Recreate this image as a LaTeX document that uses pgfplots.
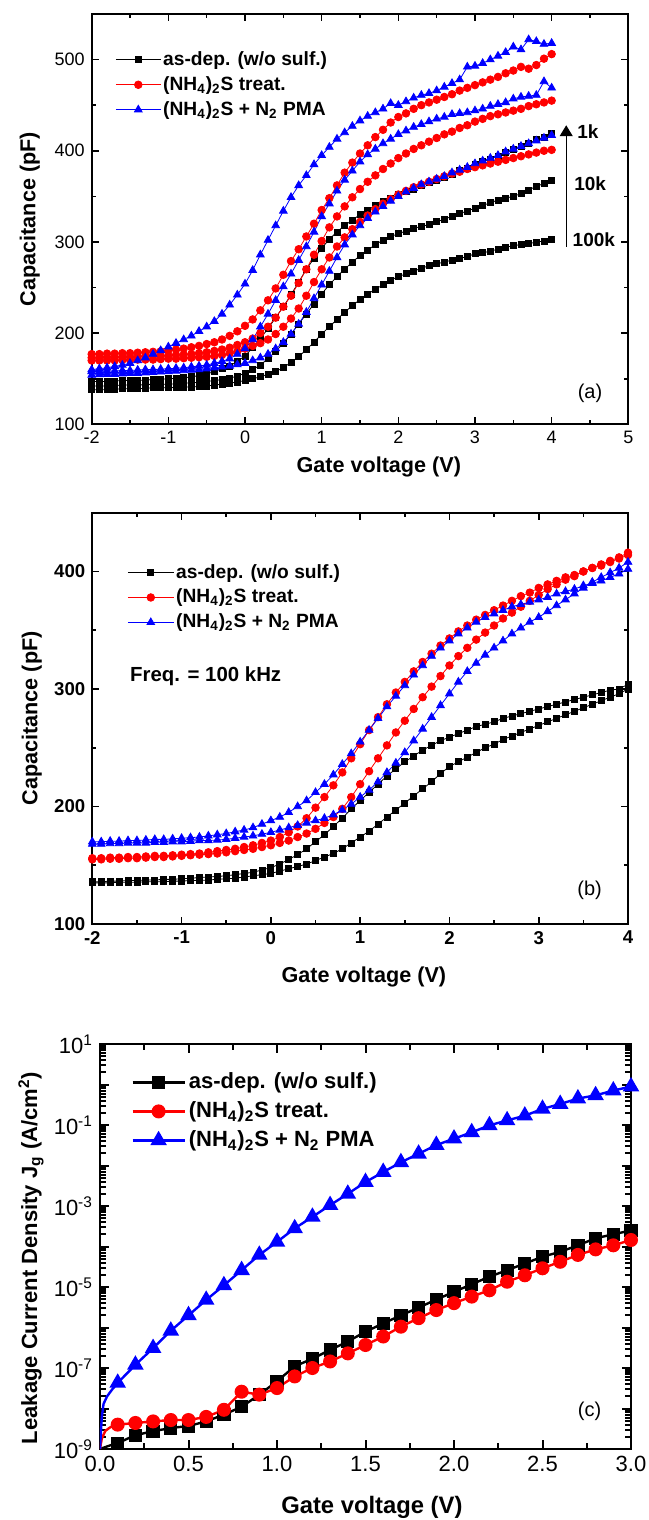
\documentclass[border=0pt]{standalone}
\usepackage{fontspec}
\setmainfont{Liberation Sans}
\usepackage{pgfplots}
\usepackage{pgfplotstable}
\pgfplotsset{compat=1.18}
\usetikzlibrary{arrows.meta}

% panel (a): C-V at 1k/10k/100k, columns a1-a3 black, a4-a6 red, a7-a9 blue (100k,10k,1k)
\pgfplotstableread{
V a1 a2 a3 a4 a5 a6 a7 a8 a9
-2.0 138 142 147 170 173 177 154 158 160
-1.9 138 142 147 170 173 177 154.5 158 161
-1.8 138 142 147 170 173.5 177.5 155 158.5 162
-1.7 138.5 142.5 147.5 170 173.5 177.5 155 158.5 163.5
-1.6 139 143 148 170.5 174 178 155.5 159 165
-1.5 139 143 148 170.5 174 178 156 159 167
-1.4 139 143 148 171 174.5 178.5 156 159.5 170
-1.3 139.5 143.5 148.5 171 174.5 179 156.5 160 173
-1.2 140 144 149 171 175 179.5 157 160 177
-1.1 140 144 149.5 171.5 175 180 157.5 160.5 181
-1.0 140 144 150 172 175.5 181 158 161 185
-0.9 140.5 144.5 150.5 172 176 182 158.5 161.5 189
-0.8 141 145 151 172.5 176.5 183 159 162 193
-0.7 141 145.5 152 173 177 184.5 159.5 163 197
-0.6 141.5 146 153.5 173.5 178 186 160 164 202
-0.5 142 147 155 174 179 188 161 165 207
-0.4 143 148 158 175 180.5 190 162 167 213
-0.3 144 149 161 176 182 193 163 169 221
-0.2 145 150.5 164 178 184 197 164 172 231
-0.1 146.5 153 169 180 187 202 165.5 177 242
0.0 148 156 175 183 190 208 167 183 254
0.1 150 160 184 186 194 215 170 193 269
0.2 152 165 194 189 200 225 173 207 286
0.3 155 172 205 193 207 236 177 221 302
0.4 158 180 217 199 217 249 183 236 318
0.5 162 189 229 207 229 264 190 251 334
0.6 168 199 242 216 241 279 199 265 349
0.7 174 210 256 227 255 292 210 280 362
0.8 182 221 270 241 270 306 223 295 373
0.9 190 232 282 256 286 320 238 311 385
1.0 199 243 293 270 301 335 253 328 395
1.1 207 253 303 283 316 348 268 342 404
1.2 215 262 311 295 328 362 283 356 413
1.3 223 270 318 305 339 376 297 368 420
1.4 230 278 324 314 349 387 308 378 427
1.5 237 285 330 322 358 397 318 388 433
1.6 243 291 335 329 366 406 326 396 438
1.7 248 297 340 336 373 415 333 402 442
1.8 253 302 344 342 380 423 339 408 446
1.9 258 306 348 347 386 431 345 413 452
2.0 262 309 352 352 392 437 350 418 450
2.1 265 312 355 356 397 441 355 422 454
2.2 268 315 358 360 402 446 359 426 458
2.3 271 317 362 363 406 450 363 429 461
2.4 274 319 365 366 410 453 366 432 463
2.5 276 322 368 369 414 456 369 435 466
2.6 278 325 371 372 418 459 372 437 470
2.7 280 328 374 375 421 462 376 440 474
2.8 282 331 378 377 425 466 379 441 478
2.9 284 334 381 380 428 469 382 442 492
3.0 287 337 385 382 432 472 386 444 493
3.1 288 340 388 384 435 475 389 446 496
3.2 290 343 391 386 438 478 392 449 500
3.3 292 346 394 388 440 481 395 451 504
3.4 294 348 398 390 442 485 399 453 508
3.5 296 350 401 392 444 488 402 457 514
3.6 297 353 405 394 446 492 405 459 511
3.7 298 357 408 396 449 490 408 460 522
3.8 300 361 412 398 451 494 411 461 520
3.9 301 364 415 400 453 501 414 476 517
4.0 303 368 419 401 455 506 417 469 518
}\tablea

% panel (b): 100 kHz, two sweeps per sample
\pgfplotstableread{
V b1 b2 b3 b4 b5 b6
-2.0 136 135 156 155 170 168
-1.9 136 135 156 155 170 168
-1.8 136.5 135 156.5 155.5 170.5 168.5
-1.7 136.5 135.5 156.5 155.5 170.5 168.5
-1.6 137 135.5 157 156 171 169
-1.5 137 135.5 157 156 171 169
-1.4 137.5 136 157.5 156.5 171.5 169
-1.3 137.5 136 158 157 172 169.5
-1.2 138 136 158 157 172 169.5
-1.1 138 136.5 158.5 157.5 172.5 170
-1.0 138.5 136.5 159 158 173 170
-0.9 139 137 159.5 158.5 173.5 170.5
-0.8 139.5 137 160 159 174 171
-0.7 140 137.5 161 159.5 175 171
-0.6 140.5 138 162 160 176 171.5
-0.5 141 138.5 163 161 177 172
-0.4 142 139 164 162 178.5 173
-0.3 143 140 165.5 163 180 174
-0.2 144 141 167 164 182 175
-0.1 146 142 169 165.5 185 176.5
0.0 148 143 171 167 188 178
0.1 151 145 174 169 191 180
0.2 155 147 178 171 195 182
0.3 159 149 183 174 200 184
0.4 164 151 190 177 205 186
0.5 170 154 199 181 212 188
0.6 176 157 208 186 219 190
0.7 183 160 218 191 227 193
0.8 190 164 229 198 236 197
0.9 198 169 241 208 245 202
1.0 205 174 253 219 255 208
1.1 212 179 265 230 265 214
1.2 219 185 276 241 275 221
1.3 226 191 287 252 285 229
1.4 232 197 297 263 294 237
1.5 238 203 306 273 303 246
1.6 243 209 315 283 312 256
1.7 248 215 323 293 320 266
1.8 252 221 330 302 328 276
1.9 256 228 337 311 335 286
2.0 259 234 343 320 341 296
2.1 262 238 349 328 347 306
2.2 265 242 354 335 352 315
2.3 268 246 359 342 357 322
2.4 270 250 363 348 361 329
2.5 272 253 367 354 364 335
2.6 275 257 371 360 367 341
2.7 277 260 375 365 370 347
2.8 279 263 379 370 372 352
2.9 281 266 382 375 374 357
3.0 283 269 386 380 376 361
3.1 285 272 389 385 378 366
3.2 287 275 392 389 381 371
3.3 289 278 395 393 383 376
3.4 291 281 397 396 385 381
3.5 293 284 400 400 388 386
3.6 295 287 403 403 390 391
3.7 297 290 405 406 392 395
3.8 299 293 408 409 395 399
3.9 300 296 411 412 398 403
4.0 304 300 414 416 402 408
}\tableb

% panel (c): leakage current density
\pgfplotstableread{
V c1 c2 c3
0.1 1.4e-9 4.0e-9 4.3e-8
0.2 2.2e-9 4.4e-9 1.2e-7
0.3 2.75e-9 4.8e-9 3.1e-7
0.4 3.3e-9 5.2e-9 8.3e-7
0.5 3.7e-9 5.2e-9 2.0e-6
0.6 4.8e-9 6.2e-9 4.8e-6
0.7 7.1e-9 9.3e-9 1.1e-5
0.8 1.1e-8 2.6e-8 2.6e-5
0.9 2.2e-8 2.2e-8 6.2e-5
1.0 4.7e-8 3.2e-8 1.3e-4
1.1 1.1e-7 6.2e-8 2.8e-4
1.2 1.7e-7 1.0e-7 5.4e-4
1.3 2.8e-7 1.45e-7 1.05e-3
1.4 4.5e-7 2.3e-7 2.0e-3
1.5 7.9e-7 3.7e-7 3.9e-3
1.6 1.26e-6 6.0e-7 6.9e-3
1.7 2.0e-6 1.05e-6 1.2e-2
1.8 3.1e-6 1.7e-6 1.95e-2
1.9 4.9e-6 2.7e-6 3.2e-2
2.0 7.6e-6 4.0e-6 4.6e-2
2.1 1.17e-5 5.8e-6 6.6e-2
2.2 1.8e-5 8.3e-6 9.8e-2
2.3 2.6e-5 1.35e-5 0.13
2.4 3.8e-5 1.95e-5 0.17
2.5 5.6e-5 2.9e-5 0.25
2.6 7.4e-5 4.2e-5 0.33
2.7 1.07e-4 6.2e-5 0.45
2.8 1.6e-4 8.5e-5 0.54
2.9 2.0e-4 1.07e-4 0.71
3.0 2.5e-4 1.45e-4 0.89
}\tablec

\pgfplotsset{
  panel/.style={scale only axis, anchor=north west, tick align=inside,
    axis line style={line width=0.9pt}, tick style={black, line width=0.8pt},
    major tick length=3.5pt, minor tick length=2pt,
    minor x tick num=1, minor y tick num=1, legend cell align=left},
  blk/.style={black, line width=0.4pt, mark=square*, mark size=1.5pt},
  rd/.style={red, line width=0.4pt, mark=*, mark size=1.9pt},
  bl/.style={blue, line width=0.4pt, mark=triangle*, mark size=2.2pt},
  blkc/.style={black, line width=1.2pt, mark=square*, mark size=2.7pt},
  rdc/.style={red, line width=1.2pt, mark=*, mark size=2.9pt},
  blc/.style={blue, line width=1.2pt, mark=triangle*, mark size=3.6pt},
}

\begin{document}
\begin{tikzpicture}
\path[use as bounding box] (0,0) rectangle (324pt,-760pt);

% ---------- (a)
\begin{axis}[panel, at={(45.85pt,-7pt)}, width=268.3pt, height=205.15pt,
  xmin=-2, xmax=5, ymin=100, ymax=550,
  xtick={-2,-1,0,1,2,3,4,5}, xticklabels={-2,-1,0,1,2,3,4,5},
  ytick={100,200,300,400,500}, yticklabels={100,200,300,400,500},
  tick label style={font=\fontsize{9}{10}\selectfont},
  xlabel={Gate voltage (V)}, ylabel={Capacitance (pF)},
  label style={font=\bfseries\fontsize{10.8}{12}\selectfont},
  xlabel style={at={(axis description cs:0.535,-0.1033)}, anchor=center},
  ylabel style={at={(axis description cs:-0.1154,0.5)}, anchor=center},
  legend style={draw=none, fill=none, at={(axis description cs:0,1)}, anchor=north west,
    xshift=11.65pt, yshift=-17.5pt, font=\bfseries\fontsize{9.6}{11}\selectfont,
    row sep=2pt, inner sep=0pt, nodes={inner sep=1pt}},
  legend image code/.code={\draw[mark repeat=2,mark phase=2,#1] plot coordinates {(0pt,0pt) (11.25pt,0pt) (22.5pt,0pt)};},
]
\addplot[blk] table[x=V,y=a1]{\tablea};
\addlegendentry{as-dep. (w/o sulf.)}
\addplot[blk, forget plot] table[x=V,y=a2]{\tablea};
\addplot[blk, forget plot] table[x=V,y=a3]{\tablea};
\addplot[rd] table[x=V,y=a4]{\tablea};
\addlegendentry{(NH\textsubscript{4})\textsubscript{2}S treat.}
\addplot[rd, forget plot] table[x=V,y=a5]{\tablea};
\addplot[rd, forget plot] table[x=V,y=a6]{\tablea};
\addplot[bl] table[x=V,y=a7]{\tablea};
\addlegendentry{(NH\textsubscript{4})\textsubscript{2}S + N\textsubscript{2} PMA}
\addplot[bl, forget plot] table[x=V,y=a8]{\tablea};
\addplot[bl, forget plot] table[x=V,y=a9]{\tablea};
\draw[line width=0.6pt, -{Triangle[width=6.5pt,length=5.5pt]}] (axis cs:4.19,295) -- (axis cs:4.19,428);
\node[anchor=west, inner sep=0pt, font=\bfseries\fontsize{9.5}{11}\selectfont] at (axis cs:4.33,420.6) {1k};
\node[anchor=west, inner sep=0pt, font=\bfseries\fontsize{9.5}{11}\selectfont] at (axis cs:4.29,364.4) {10k};
\node[anchor=west, inner sep=0pt, font=\bfseries\fontsize{9.5}{11}\selectfont] at (axis cs:4.27,303) {100k};
\node[font=\fontsize{10}{12}\selectfont] at (axis cs:4.5,134.3) {(a)};
\end{axis}

% ---------- (b)
\begin{axis}[panel, at={(46.15pt,-256.35pt)}, width=267.85pt, height=205.65pt,
  xmin=-2, xmax=4, ymin=100, ymax=450,
  xtick={-2,-1,0,1,2,3,4}, xticklabels={-2,-1,0,1,2,3,4},
  ytick={100,200,300,400}, yticklabels={100,200,300,400},
  tick label style={font=\bfseries\fontsize{9.3}{10}\selectfont},
  xlabel={Gate voltage (V)}, ylabel={Capacitance (pF)},
  label style={font=\bfseries\fontsize{10.8}{12}\selectfont},
  xlabel style={at={(axis description cs:0.507,-0.128)}, anchor=center},
  ylabel style={at={(axis description cs:-0.113,0.5)}, anchor=center},
  legend style={draw=none, fill=none, at={(axis description cs:0,1)}, anchor=north west,
    xshift=17.35pt, yshift=-24.5pt, font=\bfseries\fontsize{9.6}{11}\selectfont,
    row sep=2pt, inner sep=0pt, nodes={inner sep=1pt}},
  legend image code/.code={\draw[mark repeat=2,mark phase=2,#1] plot coordinates {(0pt,0pt) (11.5pt,0pt) (23pt,0pt)};},
]
\addplot[blk] table[x=V,y=b1]{\tableb};
\addlegendentry{as-dep. (w/o sulf.)}
\addplot[blk, forget plot] table[x=V,y=b2]{\tableb};
\addplot[rd] table[x=V,y=b3]{\tableb};
\addlegendentry{(NH\textsubscript{4})\textsubscript{2}S treat.}
\addplot[rd, forget plot] table[x=V,y=b4]{\tableb};
\addplot[bl] table[x=V,y=b5]{\tableb};
\addlegendentry{(NH\textsubscript{4})\textsubscript{2}S + N\textsubscript{2} PMA}
\addplot[bl, forget plot] table[x=V,y=b6]{\tableb};
\node[anchor=west, inner sep=0pt, font=\bfseries\fontsize{10.2}{12}\selectfont] at (axis cs:-1.58,311) {Freq. = 100 kHz};
\node[font=\fontsize{10}{12}\selectfont] at (axis cs:3.57,129) {(b)};
\end{axis}

% ---------- (c)
\begin{axis}[panel, at={(50pt,-522pt)}, width=265.5pt, height=202.5pt,
  ymode=log, xmin=0, xmax=3, ymin=1e-9, ymax=10,
  axis line style={line width=1.2pt}, tick style={black, line width=1pt},
  major tick length=4.5pt, minor tick length=2.8pt,
  xtick={0,0.5,1,1.5,2,2.5,3}, xticklabels={0.0,0.5,1.0,1.5,2.0,2.5,3.0},
  ytick={1e-9,1e-8,1e-7,1e-6,1e-5,1e-4,1e-3,1e-2,1e-1,1,10},
  minor ytick={2e-9,3e-9,4e-9,5e-9,6e-9,7e-9,8e-9,9e-9,
    2e-8,3e-8,4e-8,5e-8,6e-8,7e-8,8e-8,9e-8,
    2e-7,3e-7,4e-7,5e-7,6e-7,7e-7,8e-7,9e-7,
    2e-6,3e-6,4e-6,5e-6,6e-6,7e-6,8e-6,9e-6,
    2e-5,3e-5,4e-5,5e-5,6e-5,7e-5,8e-5,9e-5,
    2e-4,3e-4,4e-4,5e-4,6e-4,7e-4,8e-4,9e-4,
    2e-3,3e-3,4e-3,5e-3,6e-3,7e-3,8e-3,9e-3,
    0.02,0.03,0.04,0.05,0.06,0.07,0.08,0.09,
    0.2,0.3,0.4,0.5,0.6,0.7,0.8,0.9,
    2,3,4,5,6,7,8,9},
  yticklabels={10\textsuperscript{-9},,10\textsuperscript{-7},,10\textsuperscript{-5},,10\textsuperscript{-3},,10\textsuperscript{-1},,10\textsuperscript{1}},
  tick label style={font=\fontsize{11}{12}\selectfont},
  xlabel={Gate voltage (V)},
  ylabel={Leakage Current Density J\textsubscript{g} (A/cm\textsuperscript{2})},
  xlabel style={font=\bfseries\fontsize{11.9}{13}\selectfont, at={(axis description cs:0.512,-0.143)}, anchor=center},
  ylabel style={font=\bfseries\fontsize{11}{12}\selectfont, at={(axis description cs:-0.13,0.4716)}, anchor=center},
  legend style={draw=none, fill=none, at={(axis description cs:0,1)}, anchor=north west,
    xshift=15.5pt, yshift=-12.8pt, font=\bfseries\fontsize{11}{13}\selectfont,
    row sep=2pt, inner sep=0pt, nodes={inner sep=1.5pt}},
  legend image code/.code={\draw[mark repeat=2,mark phase=2,#1] plot coordinates {(0pt,0pt) (13pt,0pt) (26pt,0pt)};},
]
\addplot[black, line width=1.2pt, forget plot] coordinates {(0,1e-9) (0.05,1.2e-9) (0.1,1.4e-9)};
\addplot[red, line width=1.2pt, forget plot] coordinates {(0,1e-9) (0.01,1.8e-9) (0.03,2.8e-9) (0.06,3.5e-9) (0.1,4.0e-9)};
\addplot[blue, line width=1.2pt, forget plot] coordinates {(0,1e-9) (0.01,6e-9) (0.02,1.3e-8) (0.04,2.0e-8) (0.07,3.0e-8) (0.1,4.3e-8)};
\addplot[blkc] table[x=V,y=c1]{\tablec};
\addlegendentry{as-dep. (w/o sulf.)}
\addplot[rdc] table[x=V,y=c2]{\tablec};
\addlegendentry{(NH\textsubscript{4})\textsubscript{2}S treat.}
\addplot[blc] table[x=V,y=c3]{\tablec};
\addlegendentry{(NH\textsubscript{4})\textsubscript{2}S + N\textsubscript{2} PMA}
\node[font=\fontsize{10}{12}\selectfont] at (axis cs:2.766,8.3e-9) {(c)};
\end{axis}
\end{tikzpicture}
\end{document}
